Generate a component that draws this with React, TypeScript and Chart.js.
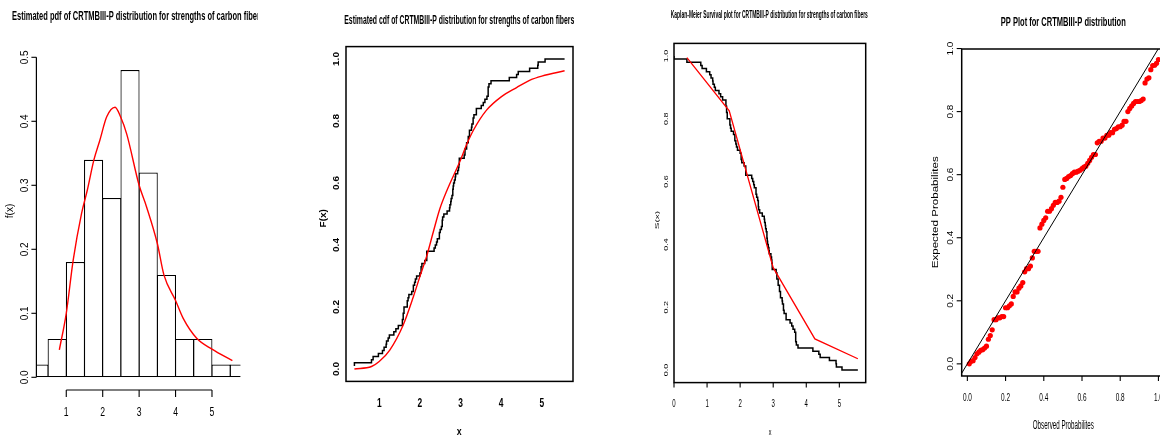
import React, { useEffect, useRef } from 'react';
import { Chart, registerables } from 'chart.js';

Chart.register(...registerables);

const FONT = '"Liberation Sans", Arial, Helvetica, sans-serif';
const H = 439;

// ---------- Panel 1: histogram + fitted pdf ----------
const pdfTitle = 'Estimated pdf of CRTMBIII-P distribution for strengths of carbon fibers';
const pdfTitleVisible = 'Estimated pdf of CRTMBIII-P distribution for strengths of carbon fibe';
const histBreaks = [0, 0.5, 1, 1.5, 2, 2.5, 3, 3.5, 4, 4.5, 5, 5.5, 6];
const histDensity = [0.02, 0.06, 0.18, 0.34, 0.28, 0.48, 0.32, 0.16, 0.06, 0.06, 0.02, 0.02];
const pdfX = [0.81, 1.0, 1.19, 1.42, 1.58, 1.76, 1.92, 2.11, 2.34, 2.49, 2.66, 3.0, 3.2, 3.5, 3.68, 4.0, 4.21, 4.58, 5.0, 5.56];
const pdfY = [0.043, 0.1, 0.183, 0.256, 0.293, 0.34, 0.37, 0.407, 0.422, 0.407, 0.38, 0.3, 0.267, 0.209, 0.16, 0.12, 0.092, 0.061, 0.044, 0.026];
const pdfXTicks = [1, 2, 3, 4, 5];
const pdfXTickLabels = ['1', '2', '3', '4', '5'];
const pdfYTicks = [0, 0.1, 0.2, 0.3, 0.4, 0.5];
const pdfYTickLabels = ['0.0', '0.1', '0.2', '0.3', '0.4', '0.5'];

// ---------- carbon fibre strengths (sorted) ----------
const strengths = [
  0.39, 0.81, 0.85, 0.98, 1.08, 1.12, 1.17, 1.18, 1.22, 1.25,
  1.36, 1.41, 1.47, 1.57, 1.57, 1.59, 1.59, 1.61, 1.61, 1.69,
  1.69, 1.71, 1.73, 1.8, 1.84, 1.84, 1.87, 1.89, 1.92, 2.0,
  2.03, 2.03, 2.05, 2.12, 2.17, 2.17, 2.17, 2.35, 2.38, 2.41,
  2.43, 2.48, 2.48, 2.5, 2.53, 2.55, 2.55, 2.56, 2.59, 2.67,
  2.73, 2.74, 2.76, 2.77, 2.79, 2.81, 2.81, 2.82, 2.83, 2.85,
  2.87, 2.88, 2.93, 2.95, 2.96, 2.97, 2.97, 3.09, 3.11, 3.11,
  3.15, 3.15, 3.19, 3.19, 3.22, 3.22, 3.27, 3.28, 3.31, 3.31,
  3.33, 3.39, 3.39, 3.51, 3.56, 3.6, 3.65, 3.68, 3.68, 3.68,
  3.7, 3.75, 4.2, 4.38, 4.42, 4.7, 4.9, 4.91, 5.08, 5.56,
];

// ---------- Panel 2: empirical vs fitted cdf ----------
const cdfTitle = 'Estimated cdf of CRTMBIII-P distribution for strengths of carbon fibers';
const cdfX = [0.39, 0.81, 1.0, 1.26, 1.59, 1.84, 2.0, 2.17, 2.33, 2.49, 2.66, 3.0, 3.15, 3.32, 3.64, 4.0, 4.38, 4.71, 5.0, 5.56];
const cdfY = [0.0, 0.008, 0.024, 0.061, 0.142, 0.233, 0.298, 0.365, 0.442, 0.516, 0.574, 0.674, 0.724, 0.771, 0.835, 0.878, 0.908, 0.932, 0.945, 0.962];
const cdfXTicks = [1, 2, 3, 4, 5];
const cdfXTickLabels = ['1', '2', '3', '4', '5'];
const probTicks = [0, 0.2, 0.4, 0.6, 0.8, 1];
const probTickLabels = ['0.0', '0.2', '0.4', '0.6', '0.8', '1.0'];

// ---------- Panel 3: Kaplan-Meier ----------
const kmTitle = 'Kaplan-Meier Survival plot for CRTMBIII-P distribution for strengths of carbon fibers';
const kmFitX = [0.39, 1.67, 3.0, 4.26, 5.56];
const kmFitY = [0.995, 0.825, 0.326, 0.099, 0.036];
const kmXTicks = [0, 1, 2, 3, 4, 5];
const kmXTickLabels = ['0', '1', '2', '3', '4', '5'];

// ---------- Panel 4: PP plot ----------
const ppTitle = 'PP Plot for CRTMBIII-P distribution';
const ppExpected = [
  0.0, 0.008, 0.01, 0.02, 0.032, 0.037, 0.043, 0.045, 0.05, 0.056,
  0.078, 0.09, 0.108, 0.14, 0.14, 0.146, 0.146, 0.15, 0.15, 0.178,
  0.178, 0.184, 0.19, 0.214, 0.228, 0.228, 0.24, 0.247, 0.258, 0.292,
  0.302, 0.302, 0.31, 0.336, 0.357, 0.357, 0.357, 0.431, 0.443, 0.455,
  0.463, 0.484, 0.484, 0.492, 0.503, 0.512, 0.512, 0.516, 0.528, 0.56,
  0.585, 0.588, 0.594, 0.597, 0.603, 0.608, 0.608, 0.611, 0.614, 0.619,
  0.624, 0.627, 0.636, 0.645, 0.655, 0.664, 0.664, 0.701, 0.706, 0.706,
  0.716, 0.716, 0.725, 0.725, 0.733, 0.733, 0.744, 0.746, 0.752, 0.752,
  0.757, 0.769, 0.769, 0.8, 0.81, 0.818, 0.826, 0.832, 0.832, 0.832,
  0.835, 0.84, 0.891, 0.903, 0.907, 0.933, 0.946, 0.947, 0.953, 0.965,
];
const ppTicks = [0, 0.2, 0.4, 0.6, 0.8, 1];

// ---------- drawing helpers ----------
type TOpt = {
  size: number; bold?: boolean; w?: number; ref?: string; sx?: number; sy?: number;
  rot?: boolean; align?: CanvasTextAlign;
};

function drawText(ctx: CanvasRenderingContext2D, s: string, x: number, y: number, o: TOpt) {
  ctx.save();
  ctx.font = `${o.bold ? 'bold ' : ''}${o.size}px ${FONT}`;
  ctx.fillStyle = '#000';
  ctx.textAlign = o.align || 'center';
  ctx.textBaseline = 'middle';
  ctx.translate(x, y);
  if (o.rot) ctx.rotate(-Math.PI / 2);
  let k = o.sx ?? 1;
  if (o.w) k = o.w / ctx.measureText(o.ref ?? s).width;
  ctx.scale(k, o.sy ?? 1);
  ctx.fillText(s, 0, 0);
  ctx.restore();
}

function seg(ctx: CanvasRenderingContext2D, x1: number, y1: number, x2: number, y2: number, lw = 1) {
  ctx.beginPath();
  ctx.moveTo(x1, y1);
  ctx.lineTo(x2, y2);
  ctx.lineWidth = lw;
  ctx.strokeStyle = '#000';
  ctx.stroke();
}

function xAxis(chart: any, vals: number[], labels: string[], axisY: number, tickLen: number, labelY: number, o: TOpt, withLine: boolean) {
  const ctx = chart.ctx as CanvasRenderingContext2D;
  const sc = chart.scales.x;
  if (withLine) seg(ctx, sc.getPixelForValue(vals[0]), axisY, sc.getPixelForValue(vals[vals.length - 1]), axisY, 1.2);
  vals.forEach((v, i) => {
    const p = sc.getPixelForValue(v);
    if (tickLen) seg(ctx, p, axisY, p, axisY + tickLen, 1.1);
    drawText(ctx, labels[i], p, labelY, o);
  });
}

function yAxis(chart: any, vals: number[], labels: string[], axisX: number, tickLen: number, labelX: number, o: TOpt, withLine: boolean) {
  const ctx = chart.ctx as CanvasRenderingContext2D;
  const sc = chart.scales.y;
  if (withLine) seg(ctx, axisX, sc.getPixelForValue(vals[0]), axisX, sc.getPixelForValue(vals[vals.length - 1]), 1.2);
  vals.forEach((v, i) => {
    const p = sc.getPixelForValue(v);
    if (tickLen) seg(ctx, axisX, p, axisX - tickLen, p, 1.1);
    drawText(ctx, labels[i], labelX, p, { ...o, rot: true });
  });
}

function frame(chart: any, lw = 1.5) {
  const a = chart.chartArea;
  const ctx = chart.ctx as CanvasRenderingContext2D;
  ctx.save();
  ctx.lineWidth = lw;
  ctx.strokeStyle = '#000';
  ctx.strokeRect(a.left, a.top, a.right - a.left, a.bottom - a.top);
  ctx.restore();
}

function baseOptions(pad: any, xr: number[], yr: number[], xExtra: any = {}) {
  return {
    responsive: false,
    animation: false as const,
    devicePixelRatio: 1,
    events: [] as any[],
    layout: { padding: pad },
    plugins: { legend: { display: false }, tooltip: { enabled: false }, title: { display: false } },
    scales: {
      x: { type: 'linear', min: xr[0], max: xr[1], display: false, offset: false, ...xExtra },
      y: { type: 'linear', min: yr[0], max: yr[1], display: false, beginAtZero: false },
    },
  };
}

// ---------- chart configs ----------
function pdfConfig(): any {
  return {
    type: 'bar',
    data: {
      datasets: [
        {
          type: 'line',
          data: pdfX.map((x, i) => ({ x, y: pdfY[i] })),
          borderColor: '#ff0000',
          borderWidth: 1.4,
          pointRadius: 0,
          cubicInterpolationMode: 'monotone',
          fill: false,
        },
        {
          type: 'bar',
          data: histDensity.map((d, i) => ({ x: (histBreaks[i] + histBreaks[i + 1]) / 2, y: d })),
          backgroundColor: '#ffffff',
          borderColor: '#000000',
          borderWidth: 1.2,
          borderSkipped: false,
          barPercentage: 1.05,
          categoryPercentage: 1,
          grouped: false,
          clip: 0,
        },
      ],
    },
    options: baseOptions({ left: 36.4, right: 17.6, top: 57.3, bottom: 61.7 }, [0.18, 5.78], [0, 0.5], {
      ticks: { stepSize: 0.5, includeBounds: false },
    }),
    plugins: [
      {
        id: 'rAxesPdf',
        afterDraw(chart: any) {
          const ctx = chart.ctx as CanvasRenderingContext2D;
          const a = chart.chartArea;
          xAxis(chart, pdfXTicks, pdfXTickLabels, 390, 7, 413, { size: 12, sx: 0.72 }, true);
          yAxis(chart, pdfYTicks, pdfYTickLabels, a.left, 5, 25, { size: 10 }, true);
          drawText(ctx, 'f(x)', 10, 211, { size: 10, rot: true });
          drawText(ctx, pdfTitle, 12, 17, { size: 12, bold: true, w: 245, ref: pdfTitleVisible, align: 'left' });
        },
      },
    ],
  };
}

function cdfConfig(): any {
  const off = 290;
  return {
    type: 'line',
    data: {
      datasets: [
        {
          data: cdfX.map((x, i) => ({ x, y: cdfY[i] })),
          borderColor: '#ff0000',
          borderWidth: 1.4,
          pointRadius: 0,
          cubicInterpolationMode: 'monotone',
          fill: false,
        },
        {
          data: strengths.map((x, i) => ({ x, y: (i + 1) / strengths.length })),
          borderColor: '#000000',
          borderWidth: 1.5,
          pointRadius: 0,
          stepped: 'after',
          fill: false,
        },
      ],
    },
    options: baseOptions({ left: 56, right: 17, top: 46.6, bottom: 57.6 }, [0.183, 5.767], [-0.04, 1.04]),
    plugins: [
      {
        id: 'rAxesCdf',
        afterDraw(chart: any) {
          const ctx = chart.ctx as CanvasRenderingContext2D;
          const a = chart.chartArea;
          frame(chart, 1.5);
          xAxis(chart, cdfXTicks, cdfXTickLabels, a.bottom, 0, 403.3, { size: 12, bold: true, sx: 0.7 }, false);
          yAxis(chart, probTicks, probTickLabels, a.left, 0, 336.7 - off, { size: 10, bold: true, sy: 0.9 }, false);
          drawText(ctx, 'x', 459.3 - off, 431.7, { size: 11, bold: true, sx: 0.8 });
          drawText(ctx, 'F(x)', 323.3 - off, 218.3, { size: 10, bold: true, rot: true, sy: 0.9 });
          drawText(ctx, cdfTitle, 459.3 - off, 20.7, { size: 12, bold: true, w: 230 });
        },
      },
    ],
  };
}

function kmConfig(): any {
  const off = 590;
  const km = [{ x: 0, y: 1 }, ...strengths.map((x, i) => ({ x, y: 1 - (i + 1) / strengths.length }))];
  return {
    type: 'line',
    data: {
      datasets: [
        {
          data: kmFitX.map((x, i) => ({ x, y: kmFitY[i] })),
          borderColor: '#ff0000',
          borderWidth: 1.3,
          pointRadius: 0,
          tension: 0,
          fill: false,
        },
        {
          data: km,
          borderColor: '#000000',
          borderWidth: 1.5,
          pointRadius: 0,
          stepped: 'after',
          fill: false,
        },
      ],
    },
    options: baseOptions({ left: 84, right: 14.3, top: 43.4, bottom: 56.4 }, [0, 5.797], [-0.04, 1.04]),
    plugins: [
      {
        id: 'rAxesKm',
        afterDraw(chart: any) {
          const ctx = chart.ctx as CanvasRenderingContext2D;
          const a = chart.chartArea;
          frame(chart, 1.5);
          xAxis(chart, kmXTicks, kmXTickLabels, a.bottom, 5, 404, { size: 11, sx: 0.55 }, false);
          yAxis(chart, probTicks, probTickLabels, a.left, 0, 666.7 - off, { size: 9, sy: 0.65 }, false);
          drawText(ctx, 'x', 770 - off, 433, { size: 9, sx: 0.6 });
          drawText(ctx, 'S(x)', 657.3 - off, 220, { size: 10, rot: true, sy: 0.6 });
          drawText(ctx, kmTitle, 769.3 - off, 15.7, { size: 10, bold: true, w: 197 });
        },
      },
    ],
  };
}

function ppConfig(): any {
  const off = 880;
  return {
    type: 'scatter',
    data: {
      datasets: [
        {
          type: 'line',
          data: [{ x: -0.1, y: -0.1 }, { x: 1.1, y: 1.1 }],
          borderColor: '#000000',
          borderWidth: 1,
          pointRadius: 0,
          fill: false,
          clip: 0,
        },
        {
          data: ppExpected.map((y, i) => ({ x: (i + 1) / ppExpected.length, y })),
          backgroundColor: '#ff0000',
          borderWidth: 0,
          pointRadius: 2.6,
          showLine: false,
        },
      ],
    },
    options: baseOptions({ left: 81.7, right: 14, top: 49, bottom: 63 }, [-0.0296, 1.0396], [-0.0385, 0.9985]),
    plugins: [
      {
        id: 'rAxesPp',
        afterDraw(chart: any) {
          const ctx = chart.ctx as CanvasRenderingContext2D;
          const a = chart.chartArea;
          frame(chart, 1.5);
          xAxis(chart, ppTicks, probTickLabels, a.bottom, 5, 398.3, { size: 11.5, sx: 0.56 }, false);
          yAxis(chart, ppTicks, probTickLabels, a.left, 5, 950.7 - off, { size: 10, sy: 0.85 }, false);
          drawText(ctx, 'Observed Probabilites', 1063.3 - off, 426, { size: 12, w: 61 });
          drawText(ctx, 'Expected Probabilites', 936 - off, 212.3, { size: 10.5, rot: true, w: 112, sy: 0.85 });
          drawText(ctx, ppTitle, 1063.3 - off, 22.7, { size: 12, bold: true, w: 125 });
        },
      },
    ],
  };
}

function Panel({ left, width, make }: { left: number; width: number; make: () => any }) {
  const ref = useRef<HTMLCanvasElement>(null);
  useEffect(() => {
    if (!ref.current) return;
    const chart = new Chart(ref.current, make());
    return () => chart.destroy();
  }, []);
  return (
    <canvas
      ref={ref}
      width={width}
      height={H}
      style={{ position: 'absolute', left, top: 0, width, height: H, display: 'block' }}
    />
  );
}

export default function App() {
  return (
    <div
      style={{
        position: 'fixed',
        left: 0,
        top: 0,
        width: 1160,
        height: H,
        overflow: 'hidden',
        background: '#ffffff',
      }}
    >
      <Panel left={0} width={258} make={pdfConfig} />
      <Panel left={290} width={300} make={cdfConfig} />
      <Panel left={590} width={290} make={kmConfig} />
      <Panel left={880} width={300} make={ppConfig} />
    </div>
  );
}
